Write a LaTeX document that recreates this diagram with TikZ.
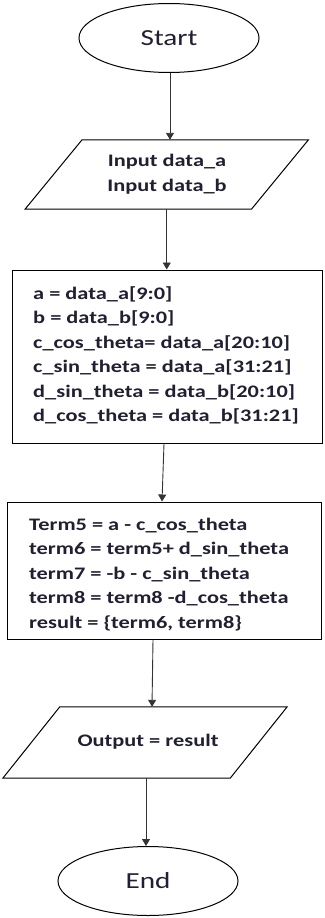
\documentclass[tikz,border=0pt]{standalone}
\usepackage{fontspec}
\usetikzlibrary{arrows.meta,shapes.geometric}
\newfontfamily\calfont{Carlito}[FakeStretch=1.27]
\definecolor{ink}{HTML}{202030}
\tikzset{
  shp/.style={draw=black, line width=1pt},
  term/.style={shp, ellipse, minimum width=180pt, minimum height=69pt, inner sep=0pt},
  procbox/.style={shp, rectangle, inner sep=0pt},
  ghost/.style={rectangle, inner sep=0pt},
  bodytxt/.style={text=ink, font=\calfont\bfseries\fontsize{17.6}{24.5}\selectfont, align=left, inner sep=0pt},
  termtxt/.style={text=ink, font=\calfont\fontsize{23}{28}\selectfont},
  arr/.style={draw=black!80, line width=0.9pt, -{Triangle[width=8pt,length=7pt]}}
}
\begin{document}
\begin{tikzpicture}[x=1pt,y=-1pt]
\useasboundingbox (0,0) rectangle (324,918);
% Start
\node[term, termtxt] (start) at (169,38) {Start};
% Input parallelogram
\node[ghost, minimum width=226pt, minimum height=69pt] (inp) at (166.75,174.5) {};
\draw[shp] ([xshift=28.5pt]inp.north west) -- ([xshift=28.5pt]inp.north east)
  -- ([xshift=-28.5pt]inp.south east) -- ([xshift=-28.5pt]inp.south west) -- cycle;
\node[bodytxt, align=center] (inpt) at (167,174) {Input data\_a\\Input data\_b};
% Box 1
\node[procbox, minimum width=310pt, minimum height=173pt] (b1) at (167,356.5) {};
\node[bodytxt, anchor=west] (b1t) at (33,355.5) {a = data\_a[9:0]\\b = data\_b[9:0]\\c\_cos\_theta= data\_a[20:10]\\c\_sin\_theta = data\_a[31:21]\\d\_sin\_theta = data\_b[20:10]\\d\_cos\_theta = data\_b[31:21]};
% Box 2
\node[procbox, minimum width=314pt, minimum height=137pt] (b2) at (164,570.5) {};
\node[bodytxt, anchor=west] (b2t) at (29,574.5) {Term5 = a - c\_cos\_theta\\term6 = term5+ d\_sin\_theta\\term7 = -b - c\_sin\_theta\\term8 = term8 -d\_cos\_theta\\result = \{term6, term8\}};
% Output parallelogram
\node[ghost, minimum width=227pt, minimum height=71pt] (out) at (145,742.5) {};
\draw[shp] ([xshift=28.5pt]out.north west) -- ([xshift=28.5pt]out.north east)
  -- ([xshift=-28.5pt]out.south east) -- ([xshift=-28.5pt]out.south west) -- cycle;
\node[bodytxt] (outt) at (148,742) {Output = result};
% End
\node[term, termtxt] (end) at (148,881) {End};
% connectors
\draw[arr] ([xshift=1pt]start.south) -- ([xshift=1pt]start.south |- inp.north);
\draw[arr] (inp.south) -- (inp.south |- b1.north);
\draw[arr] ([xshift=-3pt]b1.south) -- ([xshift=-2pt]b2.north);
\draw[arr] ([xshift=-11pt]b2.south) -- ([xshift=7pt]out.north);
\draw[arr] ([xshift=1pt]out.south) -- ([xshift=1pt]out.south |- end.north);
\end{tikzpicture}
\end{document}
